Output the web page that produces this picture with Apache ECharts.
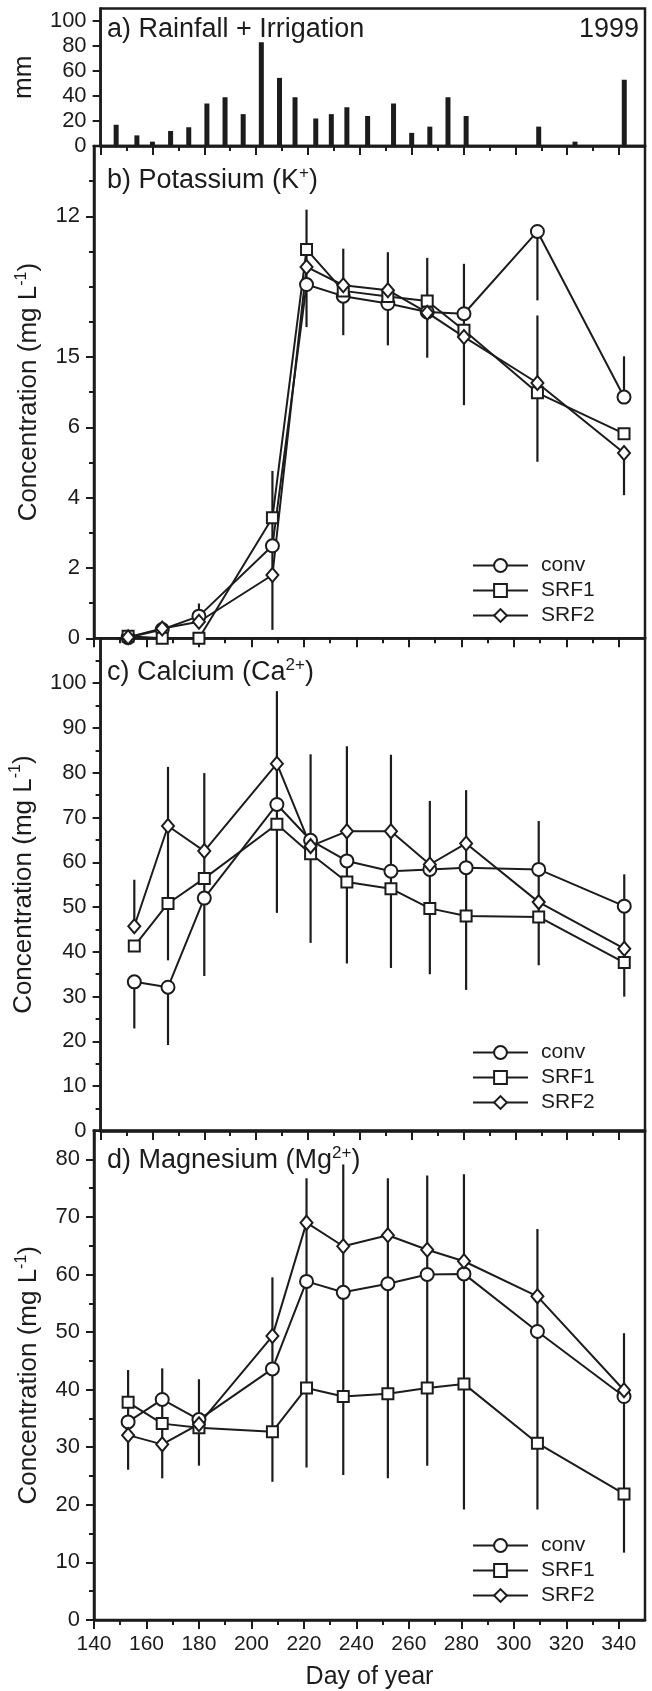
<!DOCTYPE html>
<html>
<head>
<meta charset="utf-8">
<script src="https://cdn.jsdelivr.net/npm/echarts@6/dist/echarts.min.js"></script>
<style>
html, body { margin: 0; padding: 0; background: #fff; }
#chart { width: 652px; height: 1691px; }
</style>
</head>
<body>
<div id="chart"></div>
<script>
const ink = '#1c1c1c';
const font = 'Liberation Sans, Arial, Helvetica, sans-serif';

// a) rainfall + irrigation, mm
const rainDays = [146, 154, 160, 167, 174, 181, 188, 195, 202, 209, 215, 223, 229, 235, 243, 253, 260, 267, 274, 281, 309, 323, 342];
const rainMm = [17, 8.5, 3.5, 12, 15, 34, 39, 25.5, 83, 54.5, 39, 22, 25.5, 31, 24, 34, 10.5, 15.5, 39, 24, 15.5, 3.5, 53];

// sampling days
const days = [153, 166, 180, 208, 221, 235, 252, 267, 281, 309, 342];

// b) potassium
const kConv = [0.02, 0.25, 0.63, 2.63, 10.06, 9.73, 9.52, 9.28, 9.23, 11.57, 6.86];
const kSrf1 = [0.06, 0, 0, 3.43, 11.06, 9.88, 9.72, 9.59, 8.76, 6.98, 5.82];
const kSrf2 = [0.03, 0.28, 0.47, 1.8, 10.56, 10.04, 9.9, 9.26, 8.57, 7.26, 5.27];
const kErr = [[180, 0.5, 0.99], [208, 0.24, 4.76], [221, 8.85, 12.19], [235, 8.62, 11.08], [252, 8.33, 10.98],
  [267, 7.98, 10.82], [281, 6.63, 10.65], [309, 9.61, 11.57], [309, 5.02, 9.18], [342, 6.86, 8.02], [342, 4.07, 5.27]];

// c) calcium
const caConv = [33.3, 32.1, 52.0, 72.9, 64.9, 60.3, 58.0, 58.4, 58.8, 58.4, 50.2];
const caSrf1 = [41.3, 50.8, 56.4, 68.5, 61.9, 55.6, 54.1, 49.7, 48.0, 47.8, 37.6];
const caSrf2 = [45.7, 68.1, 62.5, 82.0, 63.6, 66.9, 66.9, 59.5, 64.2, 51.1, 40.7];
const caErr = [[153, 45.7, 56.1], [153, 22.9, 33.3], [166, 38.1, 81.3], [166, 19.2, 32.1], [180, 34.6, 79.9],
  [208, 48.7, 98.2], [221, 42.0, 84.1], [235, 37.4, 85.9], [252, 36.4, 84.0], [267, 35.0, 73.7],
  [281, 31.5, 76.1], [309, 37.0, 69.2], [342, 30.0, 57.3]];

// d) magnesium
const mgConv = [34.4, 38.3, 34.8, 43.6, 58.8, 56.9, 58.4, 60.0, 60.1, 50.1, 38.8];
const mgSrf1 = [37.8, 34.1, 33.4, 32.7, 40.3, 38.8, 39.3, 40.3, 41.0, 30.7, 21.9];
const mgSrf2 = [32.1, 30.5, 34.0, 49.3, 69.0, 64.9, 66.8, 64.3, 62.3, 56.2, 39.9];
const mgErr = [[153, 26.1, 43.4], [166, 24.6, 43.7], [180, 26.8, 41.8], [208, 24.0, 59.5], [221, 26.5, 76.7],
  [235, 25.2, 79.1], [252, 24.6, 76.7], [267, 26.8, 77.2], [281, 19.2, 77.4], [309, 19.2, 67.9], [342, 11.7, 49.8]];

// ticks
const xMajor = [140, 160, 180, 200, 220, 240, 260, 280, 300, 320, 340];
const xMinor = [150, 170, 190, 210, 230, 250, 270, 290, 310, 330];
const rainTicks = [0, 20, 40, 60, 80, 100];
const kMajor = [0, 2, 4, 6, 8, 12];
const kLabels = ['0', '2', '4', '6', '15', '12'];
const kMinor = [1, 3, 5, 7, 9, 10, 11, 13];
const caMajor = [0, 10, 20, 30, 40, 50, 60, 70, 80, 90, 100];
const caMinor = [5, 15, 25, 35, 45, 55, 65, 75, 85, 95, 105];
const mgMajor = [0, 10, 20, 30, 40, 50, 60, 70, 80];
const mgMinor = [5, 15, 25, 35, 45, 55, 65, 75];

function richFor(size) {
  return {
    n: {fontSize: size, lineHeight: size + 5, color: ink, fontFamily: font, fontWeight: 'normal'},
    s: {fontSize: Math.round(size * 0.62), lineHeight: 14, color: ink, fontFamily: font, fontWeight: 'normal', verticalAlign: 'top'}
  };
}

const grids = [
  {left: 94, right: 7, top: 8.5, height: 137.5},
  {left: 94, right: 7, top: 146, height: 492.3},
  {left: 94, right: 7, top: 638.3, height: 492.7},
  {left: 94, right: 7, top: 1130.5, height: 491.5}
].map(g => Object.assign(g, {show: true, borderColor: ink, borderWidth: 2.5, backgroundColor: 'transparent'}));

function makeX(g, labelled) {
  return [
    {
      type: 'value', gridIndex: g, position: 'bottom', min: 140, max: 350,
      axisLine: {show: true, onZero: false, lineStyle: {color: ink, width: 2.5}},
      axisTick: {show: true, customValues: xMinor, length: 5, lineStyle: {color: ink, width: 2}},
      axisLabel: {show: false}, splitLine: {show: false}
    },
    {
      type: 'value', gridIndex: g, position: 'bottom', min: 140, max: 350,
      axisLine: {show: false},
      axisTick: {show: true, customValues: xMajor, length: 9, lineStyle: {color: ink, width: 2}},
      axisLabel: labelled ? {show: true, customValues: xMajor, margin: 14, fontSize: 21, color: ink, fontFamily: font} : {show: false},
      name: labelled ? 'Day of year' : '', nameLocation: 'middle', nameGap: 45,
      nameTextStyle: {fontSize: 25, color: ink, fontFamily: font},
      splitLine: {show: false}
    }
  ];
}

function makeY(g, max, minor, major, labels, name) {
  return [
    {
      type: 'value', gridIndex: g, position: 'left', min: 0, max: max,
      axisLine: {show: true, onZero: false, lineStyle: {color: ink, width: 2.5}},
      axisTick: minor.length ? {show: true, customValues: minor, length: 5, lineStyle: {color: ink, width: 2}} : {show: false},
      axisLabel: {show: false}, splitLine: {show: false}
    },
    {
      type: 'value', gridIndex: g, position: 'left', min: 0, max: max,
      axisLine: {show: false},
      axisTick: {show: true, customValues: major, length: 8, lineStyle: {color: ink, width: 2}},
      axisLabel: {
        show: true, customValues: major, margin: 14, fontSize: 22, color: ink, fontFamily: font,
        formatter: v => labels[major.indexOf(v)]
      },
      name: name, nameLocation: 'middle', nameGap: 45,
      nameTextStyle: {fontSize: 26, lineHeight: 31, color: ink, fontFamily: font, rich: richFor(26)},
      splitLine: {show: false}
    }
  ];
}

const concName = '{n|Concentration (mg L}{s|-1}{n|)}';

function lineSeries(name, g, values, symbol, size) {
  return {
    type: 'line', name: name, xAxisIndex: 2 * g, yAxisIndex: 2 * g,
    data: days.map((d, i) => [d, values[i]]),
    symbol: symbol, symbolSize: size, showAllSymbol: true,
    lineStyle: {color: ink, width: 2},
    itemStyle: {color: '#fff', borderColor: ink, borderWidth: 2},
    z: 3, silent: true
  };
}

function errSeries(g, errs) {
  return {
    type: 'custom', xAxisIndex: 2 * g, yAxisIndex: 2 * g, data: errs, z: 1, silent: true,
    encode: {x: 0, y: [1, 2]},
    renderItem: function (params, api) {
      const p1 = api.coord([api.value(0), api.value(1)]);
      const p2 = api.coord([api.value(0), api.value(2)]);
      return {type: 'line', shape: {x1: p1[0], y1: p1[1], x2: p2[0], y2: p2[1]}, style: {stroke: ink, lineWidth: 2.2}};
    }
  };
}

function panelSeries(g, conv, srf1, srf2, errs) {
  return [
    errSeries(g, errs),
    lineSeries('conv', g, conv, 'circle', 13),
    lineSeries('SRF1', g, srf1, 'rect', 11),
    lineSeries('SRF2', g, srf2, 'diamond', [12, 14])
  ];
}

function legendAt(top) {
  return {
    orient: 'vertical', left: 472, top: top, padding: 0, itemWidth: 55, itemHeight: 16, itemGap: 4,
    selectedMode: false, data: ['conv', 'SRF1', 'SRF2'],
    textStyle: {fontSize: 21, color: ink, fontFamily: font, padding: [0, 0, 0, 8]}
  };
}

function panelTitle(text, top) {
  return {text: text, left: 107, top: top, padding: 0, textStyle: {fontSize: 27, lineHeight: 32, fontWeight: 'normal', color: ink, fontFamily: font, rich: richFor(27)}};
}

const chart = echarts.init(document.getElementById('chart'), null, {renderer: 'canvas'});

const option = {
  animation: false,
  backgroundColor: '#fff',
  textStyle: {fontFamily: font},
  title: [
    panelTitle('a) Rainfall + Irrigation', 14),
    {text: '1999', right: 13, top: 14, padding: 0, textStyle: {fontSize: 27, lineHeight: 32, fontWeight: 'normal', color: ink, fontFamily: font}},
    panelTitle('{n|b) Potassium (K}{s|+}{n|)}', 165),
    panelTitle('{n|c) Calcium (Ca}{s|2+}{n|)}', 657),
    panelTitle('{n|d) Magnesium (Mg}{s|2+}{n|)}', 1145)
  ],
  legend: [legendAt(555), legendAt(1042), legendAt(1535)],
  grid: grids,
  xAxis: [].concat(makeX(0, false), makeX(1, false), makeX(2, false), makeX(3, true)),
  yAxis: [].concat(
    makeY(0, 110, [], rainTicks, rainTicks.map(String), '{n|mm}'),
    makeY(1, 14, kMinor, kMajor, kLabels, concName),
    makeY(2, 110, caMinor, caMajor, caMajor.map(String), concName),
    makeY(3, 85, mgMinor, mgMajor, mgMajor.map(String), concName)
  ),
  series: [
    {
      type: 'bar', xAxisIndex: 0, yAxisIndex: 0, barWidth: 5, silent: true,
      data: rainDays.map((d, i) => [d, rainMm[i]]),
      itemStyle: {color: ink}
    }
  ].concat(
    panelSeries(1, kConv, kSrf1, kSrf2, kErr),
    panelSeries(2, caConv, caSrf1, caSrf2, caErr),
    panelSeries(3, mgConv, mgSrf1, mgSrf2, mgErr)
  )
};

chart.setOption(option);
</script>
</body>
</html>
